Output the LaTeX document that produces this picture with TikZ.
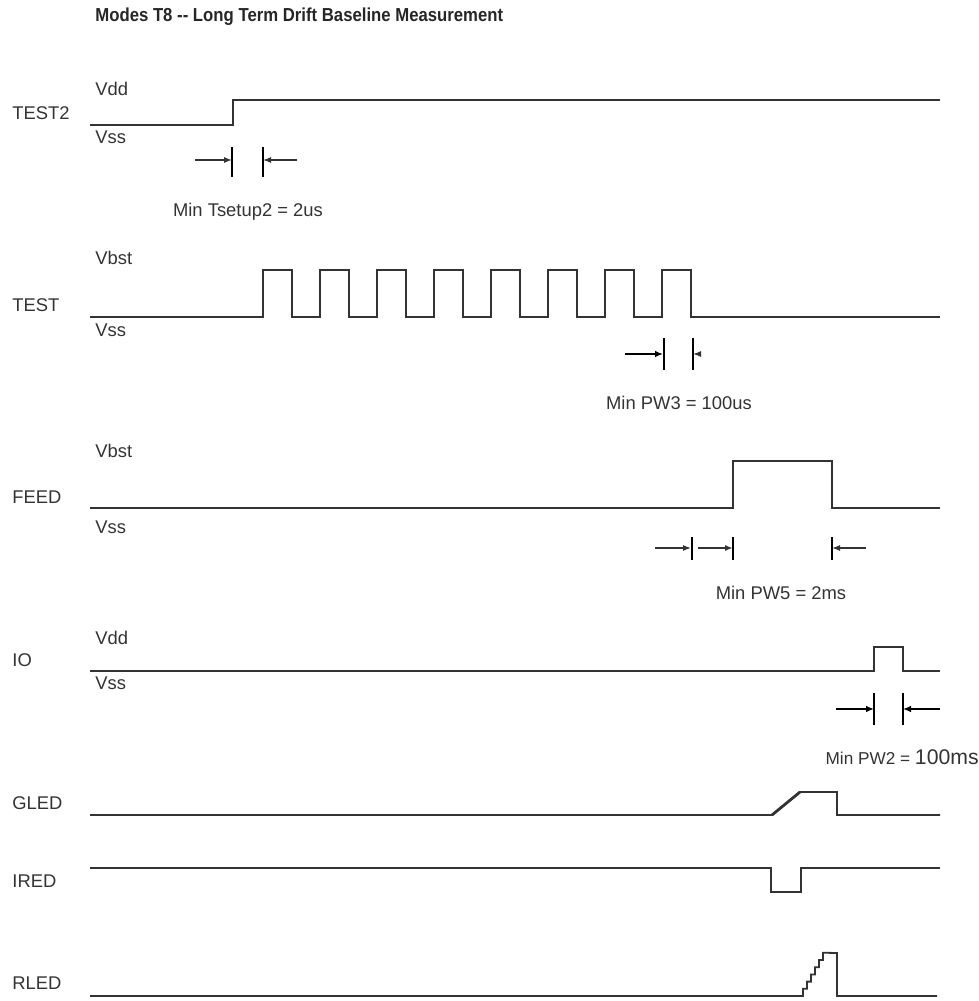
\documentclass[tikz,border=0pt]{standalone}
\usepackage{fontspec}
\setmainfont{Liberation Sans}
\usetikzlibrary{arrows.meta, positioning}
\tikzset{
    title/.style={anchor=west, inner sep=0pt, font=\fontsize{9.4}{11}\selectfont\bfseries, text=black!85},
    siglabel/.style={anchor=west, inner sep=0pt, font=\fontsize{9.2}{11}\selectfont, text=black!80},
    level/.style={anchor=west, inner sep=0pt, font=\fontsize{9.2}{11}\selectfont, text=black!80},
    note/.style={inner sep=0pt, font=\fontsize{9.2}{11}\selectfont, text=black!80},
    sig/.style={line width=0.9pt, black!80, line join=miter},
    tick/.style={line width=0.6pt, black},
    marker/.style={-{Latex[length=4pt,width=3pt]}, line width=0.6pt, black!80},
    thickmarker/.style={-{Latex[length=4pt,width=3.4pt]}, line width=1.3pt, black}
}
\begin{document}
\begin{tikzpicture}[x=0.5pt, y=-0.5pt]
        \useasboundingbox (0,0) rectangle (979,1001);
        \node [title] (head) at (95,17) {\scalebox{0.89}[1]{Modes T8 {-}{-} Long Term Drift Baseline Measurement}};

        % TEST2
        \node [siglabel] (test2) at (12,113) {TEST2};
        \node [level] (test2vdd) at (95,89) {Vdd};
        \node [level] (test2vss) at (95,137) {Vss};
        \draw [sig] (90,125) -- (233,125) -- (233,100) -- (940,100);
        \coordinate (t2a) at (232,160);
        \coordinate (t2b) at (263,160);
        \draw [tick] (232,147) -- (232,177);
        \draw [tick] (263,147) -- (263,177);
        \draw [marker] (195,160) -- (t2a);
        \draw [marker] (297,160) -- (t2b);
        \node [note] (tsetup) at (248,212) {Min Tsetup2 = 2us};

        % TEST
        \node [siglabel] (test) at (12,305) {TEST};
        \node [level] (testvbst) at (95,258) {Vbst};
        \node [level] (testvss) at (95,330) {Vss};
        \draw [sig] (90,317) foreach \x in {263,320,...,662} { -- (\x,317) -- (\x,270) -- (\x+29,270) -- (\x+29,317) } -- (940,317);
        \coordinate (pw3a) at (663,354);
        \coordinate (pw3b) at (693,354);
        \draw [tick] (664,338) -- (664,370);
        \draw [tick] (693,338) -- (693,370);
        \draw [thickmarker] (625,354) -- (pw3a);
        \draw [marker] (701,354) -- (pw3b);
        \node [note] (pw3) at (679,403) {Min PW3 = 100us};

        % FEED
        \node [siglabel] (feed) at (12,497) {FEED};
        \node [level] (feedvbst) at (95,451) {Vbst};
        \node [level] (feedvss) at (95,527) {Vss};
        \draw [sig] (90,508) -- (733,508) -- (733,461) -- (832,461) -- (832,508) -- (940,508);
        \coordinate (pw5a) at (691,548);
        \coordinate (pw5b) at (733,548);
        \coordinate (pw5c) at (832,548);
        \draw [tick] (692,537) -- (692,560);
        \draw [tick] (733,537) -- (733,560);
        \draw [tick] (832,537) -- (832,560);
        \draw [marker] (655,548) -- (pw5a);
        \draw [marker, line width=1pt] (698,548) -- (pw5b);
        \draw [marker] (866,548) -- (pw5c);
        \node [note] (pw5) at (781,593) {Min PW5 = 2ms};

        % IO
        \node [siglabel] (io) at (12,660) {IO};
        \node [level] (iovdd) at (95,638) {Vdd};
        \node [level] (iovss) at (95,683) {Vss};
        \draw [sig] (90,671) -- (874,671) -- (874,647) -- (903,647) -- (903,671) -- (940,671);
        \coordinate (pw2a) at (874,709);
        \coordinate (pw2b) at (903,709);
        \draw [tick] (874,693) -- (874,725);
        \draw [tick] (903,693) -- (903,725);
        \draw [thickmarker] (836,709) -- (pw2a);
        \draw [thickmarker] (940,709) -- (pw2b);
        \node [note, anchor=east] (pw2) at (979,757) {\fontsize{8.6}{10}\selectfont Min PW2 = \fontsize{10.6}{12}\selectfont 100ms};

        % GLED
        \node [siglabel] (gled) at (12,803) {GLED};
        \draw [sig] (90,815) -- (772,815) -- (800,792) -- (837,792) -- (837,815) -- (940,815);
        \draw [sig, line width=1.4pt] (772,815) -- (800,792);

        % IRED
        \node [siglabel] (ired) at (12,881) {IRED};
        \draw [sig] (90,868) -- (771,868) -- (771,892) -- (801,892) -- (801,868) -- (940,868);

        % RLED
        \node [siglabel] (rled) at (12,983) {RLED};
        \draw [sig] (90,996) -- (803,996) foreach \i in {1,...,6} { -- ++(0,-7.2) -- ++(4,0) } -- (837,953) -- (837,996) -- (937,996);
    \end{tikzpicture}
\end{document}
